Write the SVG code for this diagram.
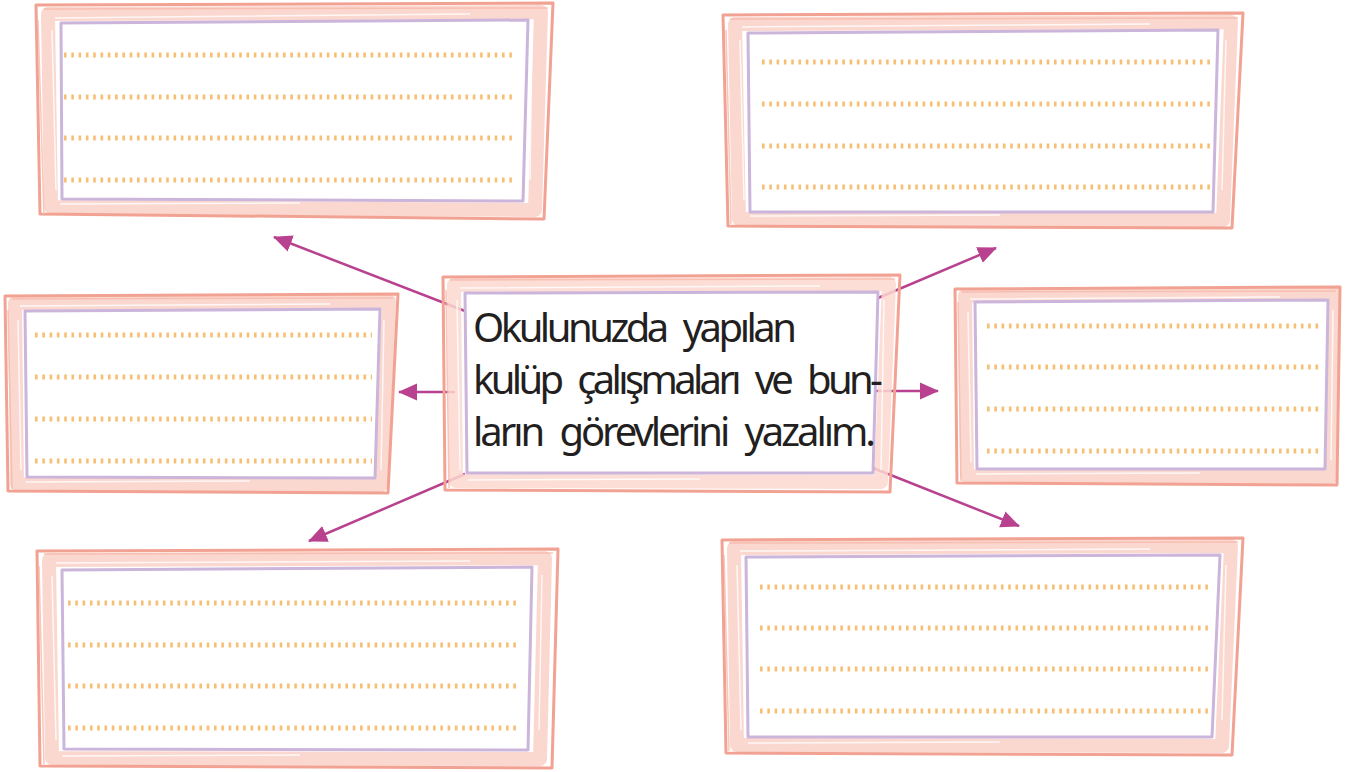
<svg xmlns="http://www.w3.org/2000/svg" width="1365" height="772" viewBox="0 0 1365 772">
  <style>
    .band { fill: none; stroke: #fbd8cf; stroke-width: 14; stroke-linejoin: round; }
    .streak { fill: none; stroke: #ffffff; stroke-width: 1.5; opacity: 0.8; }
    .outer { fill: none; stroke: #f2a292; stroke-width: 3; stroke-linejoin: round; }
    .outer2 { fill: none; stroke: #f6b8aa; stroke-width: 1.5; opacity: 0.8; }
    .inner { fill: #ffffff; stroke: #cbb5db; stroke-width: 3; stroke-linejoin: round; }
    .dots { stroke: #f7bf74; stroke-width: 5; stroke-dasharray: 2.6 4.7; fill: none; }
    .conn { stroke: #b8428f; stroke-width: 2.5; fill: none; }
    .label { font-family: "Noto Sans", "DejaVu Sans", sans-serif; font-size: 40px; fill: #231f20; word-spacing: 10px; }
  </style>
  <defs>
    <marker id="arrow" markerUnits="userSpaceOnUse" markerWidth="20" markerHeight="18" viewBox="0 0 20 18" refX="18" refY="9" orient="auto">
      <path d="M0,0.5 L19,9 L0,17.5 Z" fill="#b8428f"/>
    </marker>
  </defs>

  <g id="connectors">
    <line class="conn" x1="465" y1="311" x2="274" y2="237" marker-end="url(#arrow)"/>
    <line class="conn" x1="878" y1="298" x2="996" y2="248" marker-end="url(#arrow)"/>
    <line class="conn" x1="455" y1="392" x2="399" y2="392" marker-end="url(#arrow)"/>
    <line class="conn" x1="875" y1="391" x2="938" y2="391" marker-end="url(#arrow)"/>
    <line class="conn" x1="465" y1="474" x2="309" y2="541" marker-end="url(#arrow)"/>
    <line class="conn" x1="873" y1="468" x2="1019" y2="526" marker-end="url(#arrow)"/>
  </g>

  <!-- Top-left box -->
  <g id="box-top-left">
    <polygon class="band" points="48,14 541,12 535,210 51,207"/>
    <path class="streak" d="M55,18 L470,14 M52,30 L56,190 M60,204 L300,203 M532,30 L530,180"/>
    <polygon class="outer" points="36,5 553,3 544,219 40,214"/>
    <path class="outer2" d="M44,9 L548,8 M38,20 L44,216"/>
    <polygon class="inner" points="61,23 528,20 523,201 62,199"/>
    <line class="dots" x1="64" y1="55" x2="514" y2="55"/>
    <line class="dots" x1="64" y1="97" x2="514" y2="97"/>
    <line class="dots" x1="64" y1="138" x2="514" y2="138"/>
    <line class="dots" x1="64" y1="180" x2="514" y2="180"/>
  </g>

  <!-- Top-right box -->
  <g id="box-top-right">
    <polygon class="band" points="735,24 1231,22 1223,220 739,219"/>
    <path class="streak" d="M742,27 L1150,24 M740,40 L744,200 M750,216 L1000,215 M1226,40 L1222,190"/>
    <polygon class="outer" points="723,15 1243,13 1232,228 728,226"/>
    <path class="outer2" d="M730,19 L1238,18 M726,30 L731,224"/>
    <polygon class="inner" points="748,33 1218,30 1213,212 750,212"/>
    <line class="dots" x1="762" y1="62" x2="1212" y2="62"/>
    <line class="dots" x1="762" y1="104" x2="1212" y2="104"/>
    <line class="dots" x1="762" y1="146" x2="1212" y2="146"/>
    <line class="dots" x1="762" y1="187" x2="1212" y2="187"/>
  </g>

  <!-- Middle-left box -->
  <g id="box-middle-left">
    <polygon class="band" points="15,303 389,301 381,485 17,484"/>
    <path class="streak" d="M20,306 L330,304 M18,320 L21,470 M26,482 L250,481 M384,320 L381,470"/>
    <polygon class="outer" points="5,296 398,294 388,493 8,491"/>
    <path class="outer2" d="M12,299 L393,298 M8,310 L12,489"/>
    <polygon class="inner" points="25,311 380,309 375,478 27,477"/>
    <line class="dots" x1="35" y1="335" x2="372" y2="335"/>
    <line class="dots" x1="35" y1="377" x2="372" y2="377"/>
    <line class="dots" x1="35" y1="419" x2="372" y2="419"/>
    <line class="dots" x1="35" y1="461" x2="372" y2="461"/>
  </g>

  <!-- Middle-right box -->
  <g id="box-middle-right">
    <polygon class="band" points="965,296 1334,294 1331,477 967,476"/>
    <path class="streak" d="M970,299 L1280,297 M968,312 L971,462 M976,474 L1200,473 M1333,310 L1331,460"/>
    <polygon class="outer" points="955,289 1340,287 1337,485 957,483"/>
    <path class="outer2" d="M962,292 L1336,291 M958,302 L961,481"/>
    <polygon class="inner" points="975,302 1328,300 1325,469 977,469"/>
    <line class="dots" x1="987" y1="326" x2="1320" y2="326"/>
    <line class="dots" x1="987" y1="367" x2="1320" y2="367"/>
    <line class="dots" x1="987" y1="409" x2="1320" y2="409"/>
    <line class="dots" x1="987" y1="451" x2="1320" y2="451"/>
  </g>

  <!-- Bottom-left box -->
  <g id="box-bottom-left">
    <polygon class="band" points="49,560 545,558 540,759 52,758"/>
    <path class="streak" d="M56,563 L470,561 M52,576 L56,740 M62,756 L300,755 M542,575 L539,730"/>
    <polygon class="outer" points="37,551 558,549 552,768 40,766"/>
    <path class="outer2" d="M44,554 L553,553 M39,566 L44,764"/>
    <polygon class="inner" points="62,570 532,567 528,750 64,749"/>
    <line class="dots" x1="68" y1="603" x2="520" y2="603"/>
    <line class="dots" x1="68" y1="645" x2="520" y2="645"/>
    <line class="dots" x1="68" y1="686" x2="520" y2="686"/>
    <line class="dots" x1="68" y1="728" x2="520" y2="728"/>
  </g>

  <!-- Bottom-right box -->
  <g id="box-bottom-right">
    <polygon class="band" points="734,548 1231,546 1222,746 737,745"/>
    <path class="streak" d="M740,551 L1150,549 M737,565 L741,730 M748,743 L1000,742 M1226,565 L1222,720"/>
    <polygon class="outer" points="722,540 1243,538 1232,755 726,753"/>
    <path class="outer2" d="M729,543 L1238,542 M724,555 L729,751"/>
    <polygon class="inner" points="746,557 1220,555 1212,737 748,737"/>
    <line class="dots" x1="760" y1="587" x2="1210" y2="587"/>
    <line class="dots" x1="760" y1="628" x2="1210" y2="628"/>
    <line class="dots" x1="760" y1="669" x2="1210" y2="669"/>
    <line class="dots" x1="760" y1="711" x2="1210" y2="711"/>
  </g>

  <!-- Center node -->
  <g id="center">
    <polygon class="band" points="454,285 889,284 881,482 456,481" opacity="0.85"/>
    <path class="streak" d="M460,288 L820,286 M457,300 L460,470 M468,480 L700,479 M884,300 L881,470"/>
    <polygon class="outer" points="443,277 900,275 890,492 445,490"/>
    <path class="outer2" d="M450,280 L895,279 M446,290 L449,488"/>
    <polygon class="inner" points="465,293 878,292 873,473 467,473"/>
    <text class="label" x="473" y="342" textLength="324" lengthAdjust="spacing">Okulunuzda yapılan</text>
    <text class="label" x="473" y="394" textLength="410" lengthAdjust="spacing">kulüp çalışmaları ve bun-</text>
    <text class="label" x="473" y="446" textLength="403" lengthAdjust="spacing">ların görevlerini yazalım.</text>
  </g>
</svg>
